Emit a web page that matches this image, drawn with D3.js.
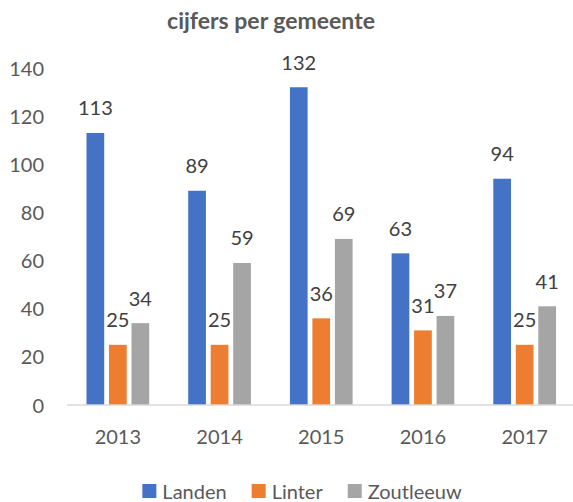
<!DOCTYPE html>
<html>
<head>
<meta charset="utf-8">
<script src="https://cdn.jsdelivr.net/npm/d3@7"></script>
<style>
  html, body { margin: 0; padding: 0; background: #fff; }
  svg { display: block; font-family: Lato, "Noto Sans", sans-serif; }
</style>
</head>
<body>
<svg id="chart" width="573" height="502"></svg>
<script>
// Figures per municipality, 2013–2017
const years = ["2013", "2014", "2015", "2016", "2017"];
const seriesNames = ["Landen", "Linter", "Zoutleeuw"];
const landen = [113, 89, 132, 63, 94];
const linter = [25, 25, 36, 31, 25];
const zoutleeuw = [34, 59, 69, 37, 41];
const yTicks = [0, 20, 40, 60, 80, 100, 120, 140];
const colors = ["#4472C4", "#ED7D31", "#A5A5A5"];

const seriesValues = [landen, linter, zoutleeuw];
const rows = years.map((y, i) => ({
  year: y,
  values: seriesNames.map((s, k) => ({ name: s, value: seriesValues[k][i], color: colors[k] }))
}));

const svg = d3.select("#chart");
const plot = { left: 67, right: 575.5, top: 68, bottom: 405 };

const x0 = d3.scaleBand().domain(years).range([plot.left, plot.right]).padding(0);
const groupW = 62.7;
const x1 = d3.scaleBand().domain(seriesNames).range([0, groupW]).paddingInner(0.213).paddingOuter(0);
const y = d3.scaleLinear().domain([0, 140]).range([plot.bottom, plot.top]);

// Title
svg.append("text")
  .attr("x", 271).attr("y", 20)
  .attr("text-anchor", "middle").attr("dominant-baseline", "central")
  .attr("font-size", 23).attr("font-weight", "bold").attr("fill", "#595959")
  .text("cijfers per gemeente");

// Y axis labels (no axis line, no gridlines)
const yAxis = d3.axisLeft(y).tickValues(yTicks).tickSize(0).tickPadding(0);
const yg = svg.append("g").attr("transform", `translate(44,0)`).call(yAxis);
yg.select(".domain").remove();
yg.selectAll("text").attr("font-size", 20).attr("fill", "#595959")
  .attr("font-family", "Lato, 'Noto Sans', sans-serif").attr("dy", "0.35em");

// Bars
const groups = svg.append("g").selectAll("g").data(rows).join("g")
  .attr("transform", d => `translate(${x0(d.year) + (x0.bandwidth() - groupW) / 2},0)`);

groups.selectAll("rect").data(d => d.values).join("rect")
  .attr("x", d => x1(d.name))
  .attr("y", d => y(d.value))
  .attr("width", x1.bandwidth())
  .attr("height", d => y(0) - y(d.value))
  .attr("fill", d => d.color);

// Data labels
groups.selectAll("text.val").data(d => d.values).join("text")
  .attr("class", "val")
  .attr("x", d => x1(d.name) + x1.bandwidth() / 2)
  .attr("y", d => y(d.value) - 25.5)
  .attr("text-anchor", "middle").attr("dominant-baseline", "central")
  .attr("font-size", 20).attr("fill", "#404040")
  .text(d => d.value);

// X axis
const xAxis = d3.axisBottom(x0).tickSize(0).tickPadding(0);
const xg = svg.append("g").attr("transform", `translate(0,${plot.bottom})`).call(xAxis);
xg.select(".domain").attr("stroke", "#D9D9D9").attr("stroke-width", 1.5)
  .attr("d", `M${plot.left},0H573`);
xg.selectAll("text").attr("font-size", 20).attr("fill", "#595959")
  .attr("font-family", "Lato, 'Noto Sans', sans-serif")
  .attr("y", 32).attr("dy", "0.35em");

// Legend
const legend = svg.append("g");
let lx = 0;
seriesNames.forEach((name, k) => {
  const item = legend.append("g").attr("transform", `translate(${lx},0)`);
  item.append("rect").attr("x", 0).attr("y", -7).attr("width", 14).attr("height", 14).attr("fill", colors[k]);
  const t = item.append("text").attr("x", 20).attr("y", 0)
    .attr("dominant-baseline", "central").attr("font-size", 20).attr("fill", "#595959")
    .text(name);
  lx += 20 + t.node().getComputedTextLength() + 25;
});
const legendW = lx - 25;
legend.attr("transform", `translate(${302 - legendW / 2},491)`);
</script>
</body>
</html>
